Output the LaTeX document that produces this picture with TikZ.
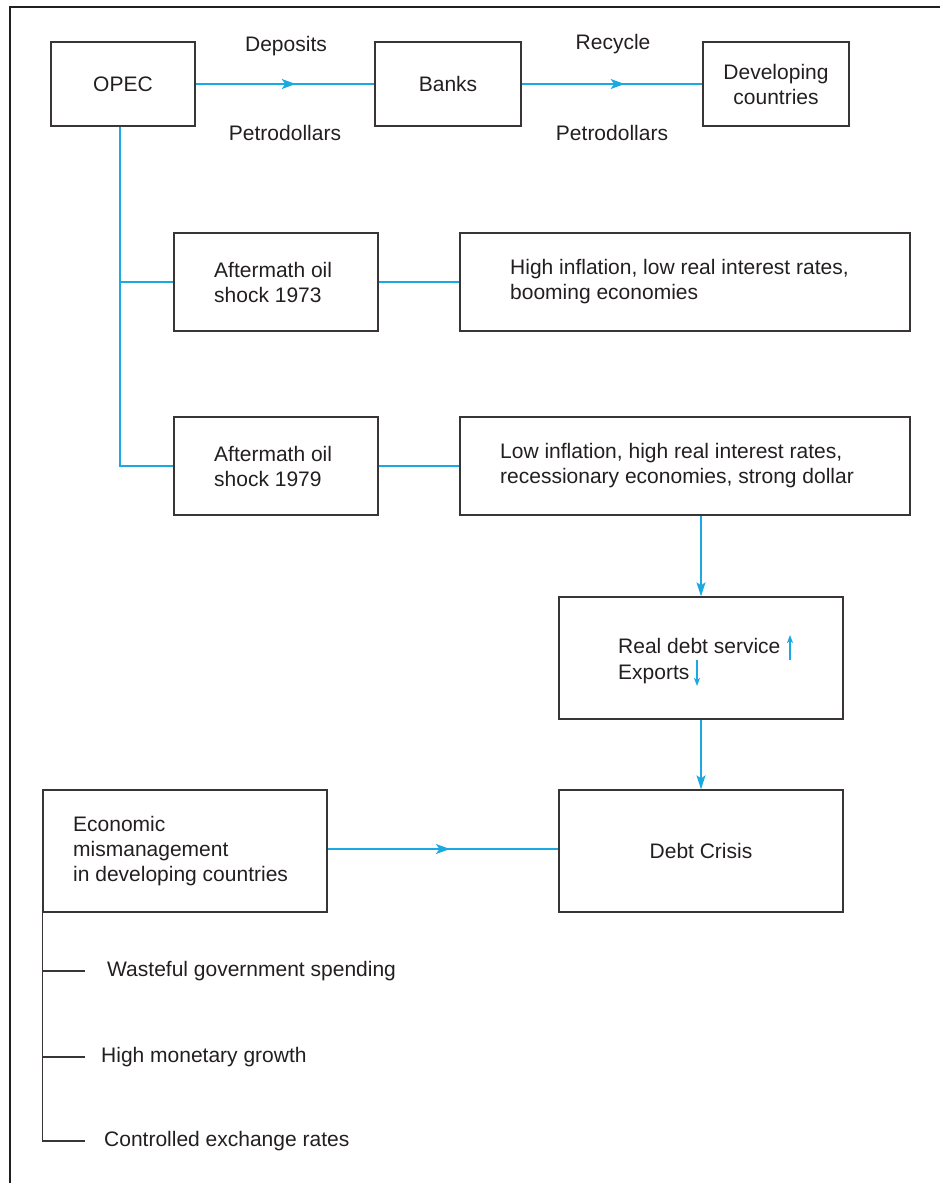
\documentclass[tikz,border=0pt]{standalone}
\usepackage{fontspec}
\setmainfont{Liberation Sans}
\usetikzlibrary{arrows.meta,decorations.markings,calc}
\definecolor{cy}{HTML}{1BA9E1}
\definecolor{ink}{HTML}{231F20}
\begin{document}
\begin{tikzpicture}[x=1pt,y=-1pt,
  box/.style={draw=ink!90, line width=1.3pt, inner sep=0pt, minimum width=#1},
  txt/.style={font=\fontsize{21}{25}\selectfont, text=ink, inner sep=0pt, align=left},
  flow/.style={draw=cy, line width=1.4pt},
  midarrow/.style={flow, postaction={decorate},
    decoration={markings, mark=at position #1 with {\arrow{Stealth[length=14pt,width=10pt,inset=3.5pt]}}}},
  endarrow/.style={flow, -{Stealth[length=14pt,width=9pt,inset=3pt]}},
  tinyarrow/.style={draw=cy, line width=1.5pt, -{Stealth[length=8pt,width=6pt,inset=2pt]}},
  branch/.style={draw=ink!90, line width=1.3pt}
]
\useasboundingbox (0,0) rectangle (940,1183);
% frame (only top and left visible)
\draw[ink, line width=2.6pt] (10,1183) -- (10,7) -- (940,7);

% boxes
\node[box=144pt, minimum height=84pt] (opec) at (123,84) {};
\node[box=146pt, minimum height=84pt] (banks) at (448,84) {};
\node[box=146pt, minimum height=84pt] (dev) at (776,84) {};
\node[box=204pt, minimum height=98pt] (a73) at (276,282) {};
\node[box=450pt, minimum height=98pt] (h73) at (685,282) {};
\node[box=204pt, minimum height=98pt] (a79) at (276,466) {};
\node[box=450pt, minimum height=98pt] (l79) at (685,466) {};
\node[box=284pt, minimum height=122pt] (rds) at (701,658) {};
\node[box=284pt, minimum height=122pt] (dc) at (701,851) {};
\node[box=284pt, minimum height=122pt] (em) at (185,851) {};

% box texts
\node[txt] (topec) at (opec.center) {OPEC};
\node[txt] (tbanks) at (banks.center) {Banks};
\node[txt, align=center] (tdev) at (dev.center) {Developing\\countries};
\node[txt, anchor=west] (ta73) at (214,282) {Aftermath oil\\shock 1973};
\node[txt, anchor=west] (th73) at (510,282) {High inflation, low real interest rates,\\booming economies};
\node[txt, anchor=west] (ta79) at (214,466) {Aftermath oil\\shock 1979};
\node[txt, anchor=west] (tl79) at (500,466) {Low inflation, high real interest rates,\\recessionary economies, strong dollar};
\node[txt, anchor=base west] (trds) at (618,653) {Real debt service};
\node[txt, anchor=base west] (texp) at (618,679) {Exports};
\node[txt] (tdc) at (dc.center) {Debt Crisis};
\node[txt, anchor=west] (tem) at (73,851) {Economic\\mismanagement\\in developing countries};

% arrow labels
\node[txt] (ldep) at (286,46) {Deposits};
\node[txt] (lpet1) at (285,133) {Petrodollars};
\node[txt] (lrec) at (613,44) {Recycle};
\node[txt] (lpet2) at (612,133) {Petrodollars};

% top flows
\draw[midarrow=0.56] (opec.east) -- (banks.west);
\draw[midarrow=0.57] (banks.east) -- (dev.west);

% OPEC tree
\coordinate (otop) at ($(opec.south)+(-3,0)$);
\draw[flow] (otop) -- (otop |- a79.west) -- (a79.west);
\draw[flow] (otop |- a73.west) -- (a73.west);
\draw[flow] (a73.east) -- (h73.west);
\draw[flow] (a79.east) -- (l79.west);

% vertical arrows
\draw[endarrow] (l79.south -| rds.north) -- (rds.north);
\draw[endarrow] (rds.south) -- (dc.north);
\coordinate (emr) at ($(em.east)+(0,-2)$);
\draw[midarrow=0.53] (emr) -- (emr -| dc.west);

% tiny arrows in box
\coordinate (upa) at (790,660);
\coordinate (dna) at (697,660);
\draw[tinyarrow] (upa) -- ++(0,-25);
\draw[tinyarrow] (dna) -- ++(0,26);

% list branches
\node[txt, anchor=west] (w1) at (107,971) {Wasteful government spending};
\node[txt, anchor=west] (w2) at (101,1057) {High monetary growth};
\node[txt, anchor=west] (w3) at (104,1141) {Controlled exchange rates};
\coordinate (b1) at (85,971);
\coordinate (b2) at (85,1057);
\coordinate (b3) at (85,1141);
\draw[branch] (em.south west) -- (em.south west |- b3) -- (b3);
\draw[branch] (em.south west |- b1) -- (b1);
\draw[branch] (em.south west |- b2) -- (b2);
\end{tikzpicture}
\end{document}
